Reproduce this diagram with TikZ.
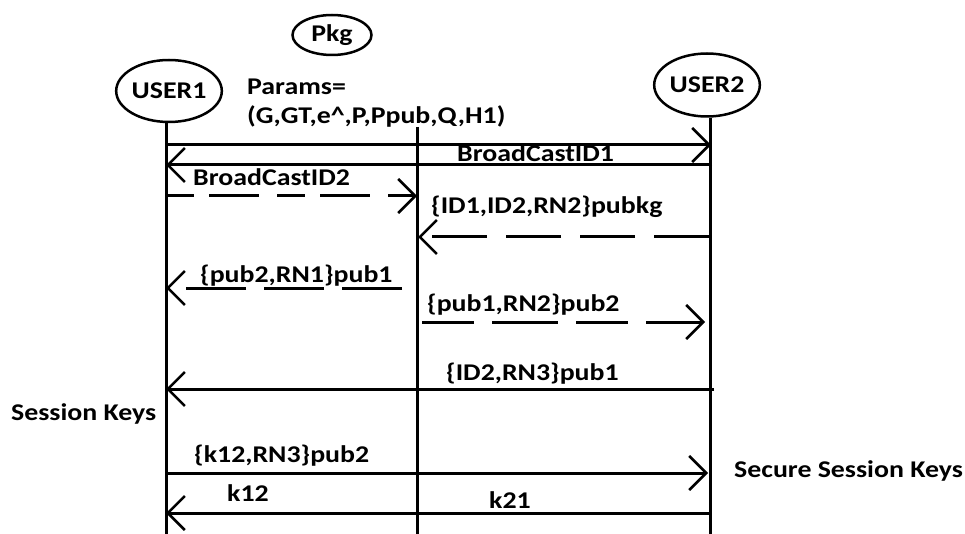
\documentclass[tikz,border=0pt]{standalone}
\usepackage{fontspec}
\setmainfont{Carlito}[FakeStretch=1.16]
\usetikzlibrary{arrows.meta,shapes.geometric}
\begin{document}
\begin{tikzpicture}[x=1pt,y=-1pt,
  txt/.style={font=\bfseries\fontsize{24}{26}\selectfont},
  lbl/.style={txt, inner sep=0pt, anchor=base west},
  actor/.style={txt, draw, line width=2.5pt, ellipse, inner sep=0pt},
  life/.style={line width=3pt},
  msg/.style={line width=3pt, -{Straight Barb[length=17pt,width=34pt,line width=2.5pt]}},
  dmsg/.style={msg, dash pattern=on 55pt off 19pt}
]
\useasboundingbox (0,0) rectangle (965,534);
\node[actor, minimum width=79pt, minimum height=40pt] (pkg) at (332,35) {Pkg};
\node[actor, minimum width=104pt, minimum height=62pt] (u1) at (169,91) {USER1};
\node[actor, minimum width=101pt, minimum height=63pt] (u2) at (707,85) {USER2};
\node[lbl] (params1) at (247,95) {Params=};
\node[lbl] (params2) at (247,124) {(G,GT,e\^{},P,Ppub,Q,H1)};

\coordinate (u1end) at (166,534);
\coordinate (mtop) at (417,127);
\coordinate (mend) at (417,534);
\coordinate (u2end) at (710,534);
\draw[life] (u1.south -| u1end) -- (u1end);
\draw[life] (mtop) -- (mend);
\draw[life] (u2.south -| u2end) -- (u2end);

% message end points
\coordinate (a1) at (166,145); \coordinate (b1) at (711,145);
\coordinate (a2) at (166,165); \coordinate (b2) at (712,165);
\coordinate (a3) at (166,196); \coordinate (b3) at (417,196);
\coordinate (a4) at (418,237); \coordinate (b4) at (709,237);
\coordinate (a5) at (166,288); \coordinate (b5) at (402,288);
\coordinate (a6) at (422,322); \coordinate (b6) at (705,322);
\coordinate (a7) at (166,389); \coordinate (b7) at (714,389);
\coordinate (a8) at (166,473); \coordinate (b8) at (708,473);
\coordinate (a9) at (166,513); \coordinate (b9) at (710,513);

\draw[msg] (a1) -- (b1);
\draw[msg] (b2) -- (a2);
\draw[dmsg, dash pattern=on 28pt off 15pt on 50pt off 18pt] (a3) -- (b3);
\draw[dmsg] (b4) -- (a4);
\draw[dmsg, dash pattern=on 60pt off 18pt] (b5) -- (a5);
\draw[dmsg, dash pattern=on 52pt off 18pt on 66pt off 18pt] (a6) -- (b6);
\draw[msg] (b7) -- (a7);
\draw[msg] (a8) -- (b8);
\draw[msg] (b9) -- (a9);

\node[lbl] (l1) at (457,162) {BroadCastID1};
\node[lbl] (l2) at (193,186) {BroadCastID2};
\node[lbl] (l3) at (431,214) {\{ID1,ID2,RN2\}pubkg};
\node[lbl] (l4) at (200,283) {\{pub2,RN1\}pub1};
\node[lbl] (l5) at (427,311) {\{pub1,RN2\}pub2};
\node[lbl] (l6) at (446,380) {\{ID2,RN3\}pub1};
\node[lbl] (l7) at (11,420) {Session Keys};
\node[lbl] (l8) at (194,462) {\{k12,RN3\}pub2};
\node[lbl] (l9) at (734,477) {Secure Session Keys};
\node[lbl] (l10) at (227,501) {k12};
\node[lbl] (l11) at (489,508) {k21};
\end{tikzpicture}
\end{document}
